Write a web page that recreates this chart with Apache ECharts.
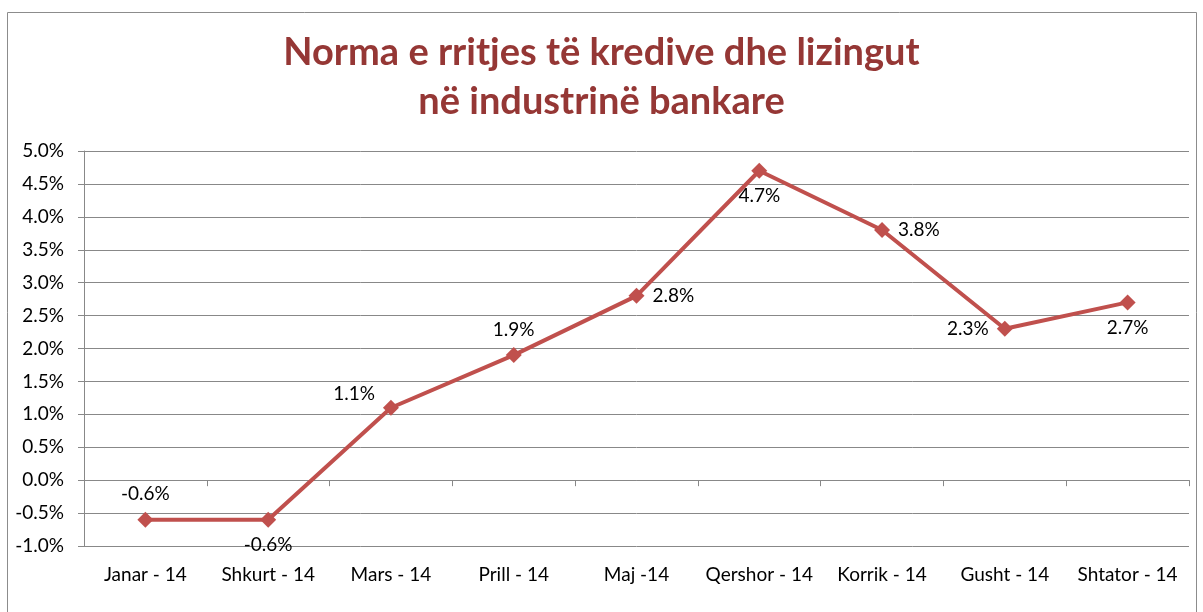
<!DOCTYPE html>
<html>
<head>
<meta charset="utf-8">
<script src="https://cdn.jsdelivr.net/npm/echarts@6/dist/echarts.min.js"></script>
<style>
  html, body { margin: 0; padding: 0; background: #fff; }
  #chart { width: 1203px; height: 612px; }
</style>
</head>
<body>
<div id="chart"></div>
<script>
// muajt (kategorite)
var months = ['Janar - 14', 'Shkurt - 14', 'Mars - 14', 'Prill - 14', 'Maj -14',
              'Qershor - 14', 'Korrik - 14', 'Gusht - 14', 'Shtator - 14'];
// norma e rritjes, ne %
var growth = [-0.6, -0.6, 1.1, 1.9, 2.8, 4.7, 3.8, 2.3, 2.7];
// ku shfaqet etiketa per cdo pike
var labelPos = ['top', 'bottom', 'left', 'top', 'right', 'bottom', 'right', 'left', 'bottom'];

var red = '#c0504d';
var fontFam = 'Lato, "Open Sans", sans-serif';

var chart = echarts.init(document.getElementById('chart'));

var points = growth.map(function (v, i) {
    var lbl = { position: labelPos[i] };
    if (i === 2) lbl.offset = [0, -14];
    return { value: v, label: lbl };
});

chart.setOption({
    animation: false,
    textStyle: { fontFamily: fontFam },
    title: {
        text: 'Norma e rritjes të kredive dhe lizingut\nnë industrinë bankare',
        left: 'center',
        top: 28,
        padding: [0, 0, 0, 20],
        textStyle: {
            color: '#953735',
            fontSize: 38,
            fontWeight: 'bold',
            lineHeight: 49,
            fontFamily: fontFam
        }
    },
    graphic: [{
        type: 'rect',
        shape: { x: 7.5, y: 12.5, width: 1189, height: 640 },
        style: { fill: 'none', stroke: '#8c8c8c', lineWidth: 1 },
        silent: true
    }],
    grid: { left: 84, right: 14, top: 151, bottom: 66 },
    xAxis: {
        type: 'category',
        data: months,
        boundaryGap: true,
        axisLine: { lineStyle: { color: '#888', width: 1 } },
        axisTick: { show: true, length: 6, lineStyle: { color: '#888' } },
        axisLabel: { color: '#000', fontSize: 19, margin: 19, interval: 0 }
    },
    yAxis: {
        type: 'value',
        min: -1,
        max: 5,
        interval: 0.5,
        axisLine: { show: true, lineStyle: { color: '#888' } },
        axisTick: { show: true, length: 6, lineStyle: { color: '#888' } },
        splitLine: { lineStyle: { color: '#888', width: 1 } },
        axisLabel: {
            color: '#000',
            fontSize: 19,
            margin: 20,
            formatter: function (v) { return v.toFixed(1) + '%'; }
        }
    },
    series: [{
        type: 'line',
        data: points,
        symbol: 'diamond',
        symbolSize: 16,
        lineStyle: { color: red, width: 4 },
        itemStyle: { color: red },
        label: {
            show: true,
            color: '#000',
            fontSize: 19,
            distance: 8,
            formatter: function (p) { return p.value.toFixed(1) + '%'; }
        }
    }]
});
</script>
</body>
</html>
